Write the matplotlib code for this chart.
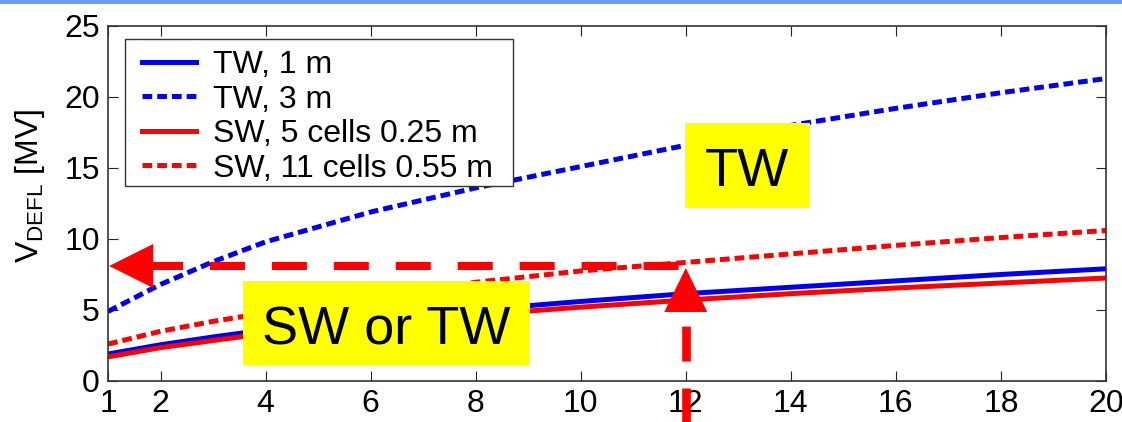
import matplotlib
matplotlib.use("Agg")
import matplotlib.pyplot as plt
from matplotlib.patches import Polygon, Rectangle

plt.rcParams["font.family"] = ["Liberation Sans", "DejaVu Sans"]
plt.rcParams["lines.scale_dashes"] = False

# -----------------------------
# data
# -----------------------------
power = [1, 2, 3, 4, 6, 8, 10, 12, 14, 16, 18, 20]
tw_1m = [1.9, 2.55, 3.1, 3.6, 4.35, 5.0, 5.6, 6.15, 6.6, 7.05, 7.5, 7.9]
tw_3m = [4.9, 6.8, 8.4, 9.8, 11.9, 13.6, 15.1, 16.6, 18.0, 19.2, 20.3, 21.3]
sw_5cells = [1.7, 2.35, 2.85, 3.35, 4.05, 4.65, 5.2, 5.7, 6.15, 6.55, 6.9, 7.25]
sw_11cells = [2.6, 3.5, 4.2, 4.8, 5.95, 6.95, 7.75, 8.35, 8.95, 9.55, 10.1, 10.6]

labels = ["TW, 1 m", "TW, 3 m", "SW, 5 cells 0.25 m", "SW, 11 cells 0.55 m"]
xticks = [1, 2, 4, 6, 8, 10, 12, 14, 16, 18, 20]
yticks = [0, 5, 10, 15, 20, 25]

# operating point marked by the arrows
p_op = 12
v_op = 8.1

BLUE = "#0000f0"
RED = "#ff0000"

fig = plt.figure(figsize=(11.22, 4.22), dpi=100)
ax = fig.add_axes([0.0963, 0.0972, 0.8894, 0.8412])

# slide decoration band on top
fig.patches.append(Rectangle((0, 1 - 4 / 422), 1, 4 / 422, transform=fig.transFigure,
                             facecolor="#6e9ef2", edgecolor="none"))

lw = 3.6
dash = (7, 3.6)
ax.plot(power, tw_1m, color=BLUE, lw=lw, label=labels[0])
ax.plot(power, tw_3m, color=BLUE, lw=lw, dashes=dash, label=labels[1])
ax.plot(power, sw_5cells, color=RED, lw=lw, label=labels[2])
ax.plot(power, sw_11cells, color=RED, lw=lw, dashes=dash, label=labels[3])

ax.set_xlim(1, 20)
ax.set_ylim(0, 25)
ax.set_xticks(xticks)
ax.set_yticks(yticks)
ax.tick_params(direction="in", length=7, width=0.8, top=True, right=True,
               labelsize=23, pad=6, colors="#222222", labelcolor="black")
for s in ax.spines.values():
    s.set_color("#333333")
    s.set_linewidth(1.2)

ax.set_ylabel(r"$\mathregular{V_{DEFL}}$ [MV]", fontsize=23)
ax.yaxis.set_label_coords(-0.061, 0.55)

# legend with a manual frame (MATLAB style tight box)
ax.add_patch(Rectangle((0.017, 0.549), 0.389, 0.414, transform=ax.transAxes,
                       facecolor="white", edgecolor="#333333", lw=1.0, zorder=8))
leg = ax.legend(loc="upper left", bbox_to_anchor=(0.034, 0.932), frameon=False,
                fontsize=23, handlelength=1.7, handletextpad=0.53, labelspacing=0.14,
                borderpad=0, borderaxespad=0)
leg.set_zorder(9)

# yellow call-out boxes
ax.add_patch(Rectangle((11.98, 12.18), 2.38, 5.99, facecolor="#ffff00", edgecolor="none", zorder=6))
ax.text(13.17, 13.73, "TW", fontsize=39, ha="center", va="baseline", zorder=7)
ax.add_patch(Rectangle((3.57, 1.13), 5.46, 5.91, facecolor="#ffff00", edgecolor="none", zorder=6))
ax.text(6.3, 2.54, "SW or TW", fontsize=39, ha="center", va="baseline", zorder=7)

# red dashed arrows: horizontal to the axis, vertical from below
ax.plot([1.76, p_op], [v_op, v_op], color=RED, lw=5.8, dashes=(25.2, 19.4),
        solid_capstyle="butt", zorder=5)
ax.add_patch(Polygon([[1.02, v_op], [1.86, v_op + 1.55], [1.86, v_op - 1.55]],
                     closed=True, facecolor=RED, edgecolor="none", zorder=5))
ax.plot([p_op, p_op], [-4.23, 4.9], color=RED, lw=6.2, dashes=(25.2, 19.4),
        clip_on=False, zorder=5)
ax.add_patch(Polygon([[p_op, 7.96], [p_op - 0.41, 4.86], [p_op + 0.41, 4.86]],
                     closed=True, facecolor=RED, edgecolor="none", zorder=5))

fig.savefig("out.png", dpi=100)
